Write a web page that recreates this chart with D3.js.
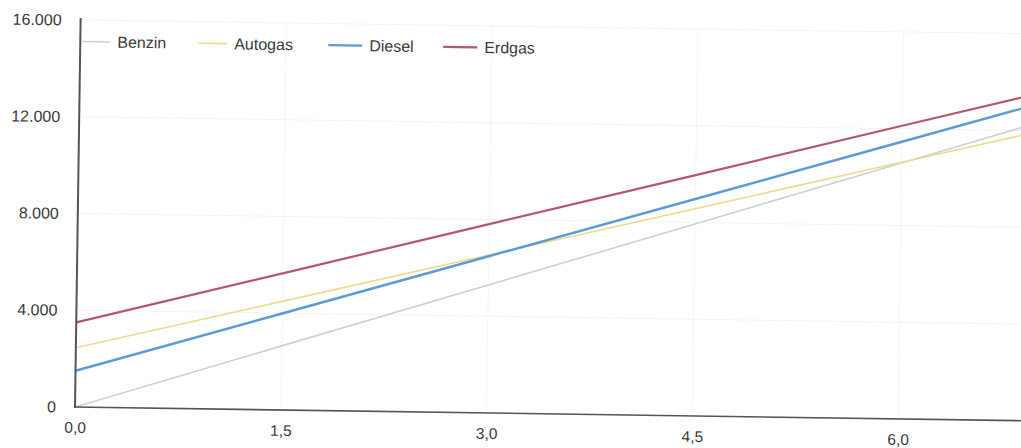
<!DOCTYPE html>
<html>
<head>
<meta charset="utf-8">
<script src="https://cdn.jsdelivr.net/npm/d3@7"></script>
<style>
  html, body { margin: 0; padding: 0; background: #fff; }
  svg { display: block; }
  text { font-family: "Liberation Sans", Arial, sans-serif; }
</style>
</head>
<body>
<svg id="chart" width="1021" height="448"></svg>
<script>
// ---- data ----
const xValues   = [0, 1.5, 3.0, 4.5, 6.0, 7.0];
const benzin    = [0, 2650, 5290, 7940, 10580, 12350];
const autogas   = [2450, 4490, 6530, 8570, 10610, 11970];
const diesel    = [1500, 3990, 6480, 8970, 11460, 13120];
const erdgas    = [3500, 5650, 7810, 9960, 12120, 13550];
const seriesNames  = ["Benzin", "Autogas", "Diesel", "Erdgas"];
const seriesColors = ["#c9d2d5", "#efd98a", "#5a9bd8", "#b8566e"];
const seriesWidths = [1.6, 1.6, 2.4, 2.2];
const xTicks = [0, 1.5, 3.0, 4.5, 6.0];
const yTicks = [0, 4000, 8000, 12000, 16000];

const seriesValues = [benzin, autogas, diesel, erdgas];

const svg = d3.select("#chart");
const W = 1021, H = 448;
const ox = 75, oy = 407;

const x = d3.scaleLinear().domain([0, 6]).range([ox, 898]);
const y = d3.scaleLinear().domain([0, 16000]).range([oy, 20]);

svg.append("defs").append("clipPath").attr("id", "clip")
  .append("rect").attr("x", ox).attr("y", 0).attr("width", W - ox + 30).attr("height", oy);

const g = svg.append("g").attr("transform", `rotate(0.83, ${ox}, ${oy})`);

const fmtY = v => v === 0 ? "0" : d3.format(",")(v).replace(/,/g, ".");
const fmtX = v => v.toFixed(1).replace(".", ",");

// gridlines
g.append("g").selectAll("line").data(yTicks.filter(d => d > 0)).join("line")
  .attr("x1", ox).attr("x2", W + 30)
  .attr("y1", d => y(d)).attr("y2", d => y(d))
  .attr("stroke", "#f3f3f3").attr("stroke-width", 1);
g.append("g").selectAll("line").data(xTicks.filter(d => d > 0)).join("line")
  .attr("x1", d => x(d)).attr("x2", d => x(d))
  .attr("y1", y(16000)).attr("y2", oy)
  .attr("stroke", "#f5f5f5").attr("stroke-width", 1);

// y axis
const yAxis = d3.axisLeft(y).tickValues(yTicks).tickFormat(fmtY).tickSize(0).tickPadding(19);
const ya = g.append("g").attr("transform", `translate(${ox},0)`).call(yAxis);
ya.select(".domain").remove();
ya.selectAll("text").attr("font-size", 16).attr("fill", "#3a3a3a")
  .attr("font-family", "'Liberation Sans', Arial, sans-serif");

// x axis
const xAxis = d3.axisBottom(x).tickValues(xTicks).tickFormat(fmtX).tickSize(0).tickPadding(15);
const xa = g.append("g").attr("transform", `translate(0,${oy})`).call(xAxis);
xa.select(".domain").remove();
xa.selectAll("text").attr("font-size", 15.5).attr("fill", "#3a3a3a")
  .attr("font-family", "'Liberation Sans', Arial, sans-serif");

// lines
const line = d3.line().x((d, i) => x(xValues[i])).y(d => y(d));
g.append("g").attr("clip-path", "url(#clip)").selectAll("path").data(seriesValues).join("path")
  .attr("d", d => line(d))
  .attr("fill", "none")
  .attr("stroke", (d, i) => seriesColors[i])
  .attr("stroke-width", (d, i) => seriesWidths[i]);

// axis lines
g.append("line").attr("x1", ox).attr("x2", ox).attr("y1", 18).attr("y2", oy + 1)
  .attr("stroke", "#555").attr("stroke-width", 2);
g.append("line").attr("x1", ox - 1).attr("x2", W + 30).attr("y1", oy).attr("y2", oy)
  .attr("stroke", "#555").attr("stroke-width", 1.6);

// legend
const legendX = [77, 193, 323, 438];
const legendLen = [28, 29, 34, 34];
const leg = g.append("g").selectAll("g").data(seriesNames).join("g")
  .attr("transform", (d, i) => `translate(${legendX[i]},41.5)`);
leg.append("line").attr("x1", 0).attr("x2", (d, i) => legendLen[i]).attr("y1", 0).attr("y2", 0)
  .attr("stroke", (d, i) => seriesColors[i]).attr("stroke-width", (d, i) => seriesWidths[i]);
leg.append("text").attr("x", (d, i) => legendLen[i] + 7).attr("y", 0).attr("dy", "0.35em")
  .attr("font-size", 16).attr("fill", "#3a3a3a").text(d => d);
</script>
</body>
</html>
